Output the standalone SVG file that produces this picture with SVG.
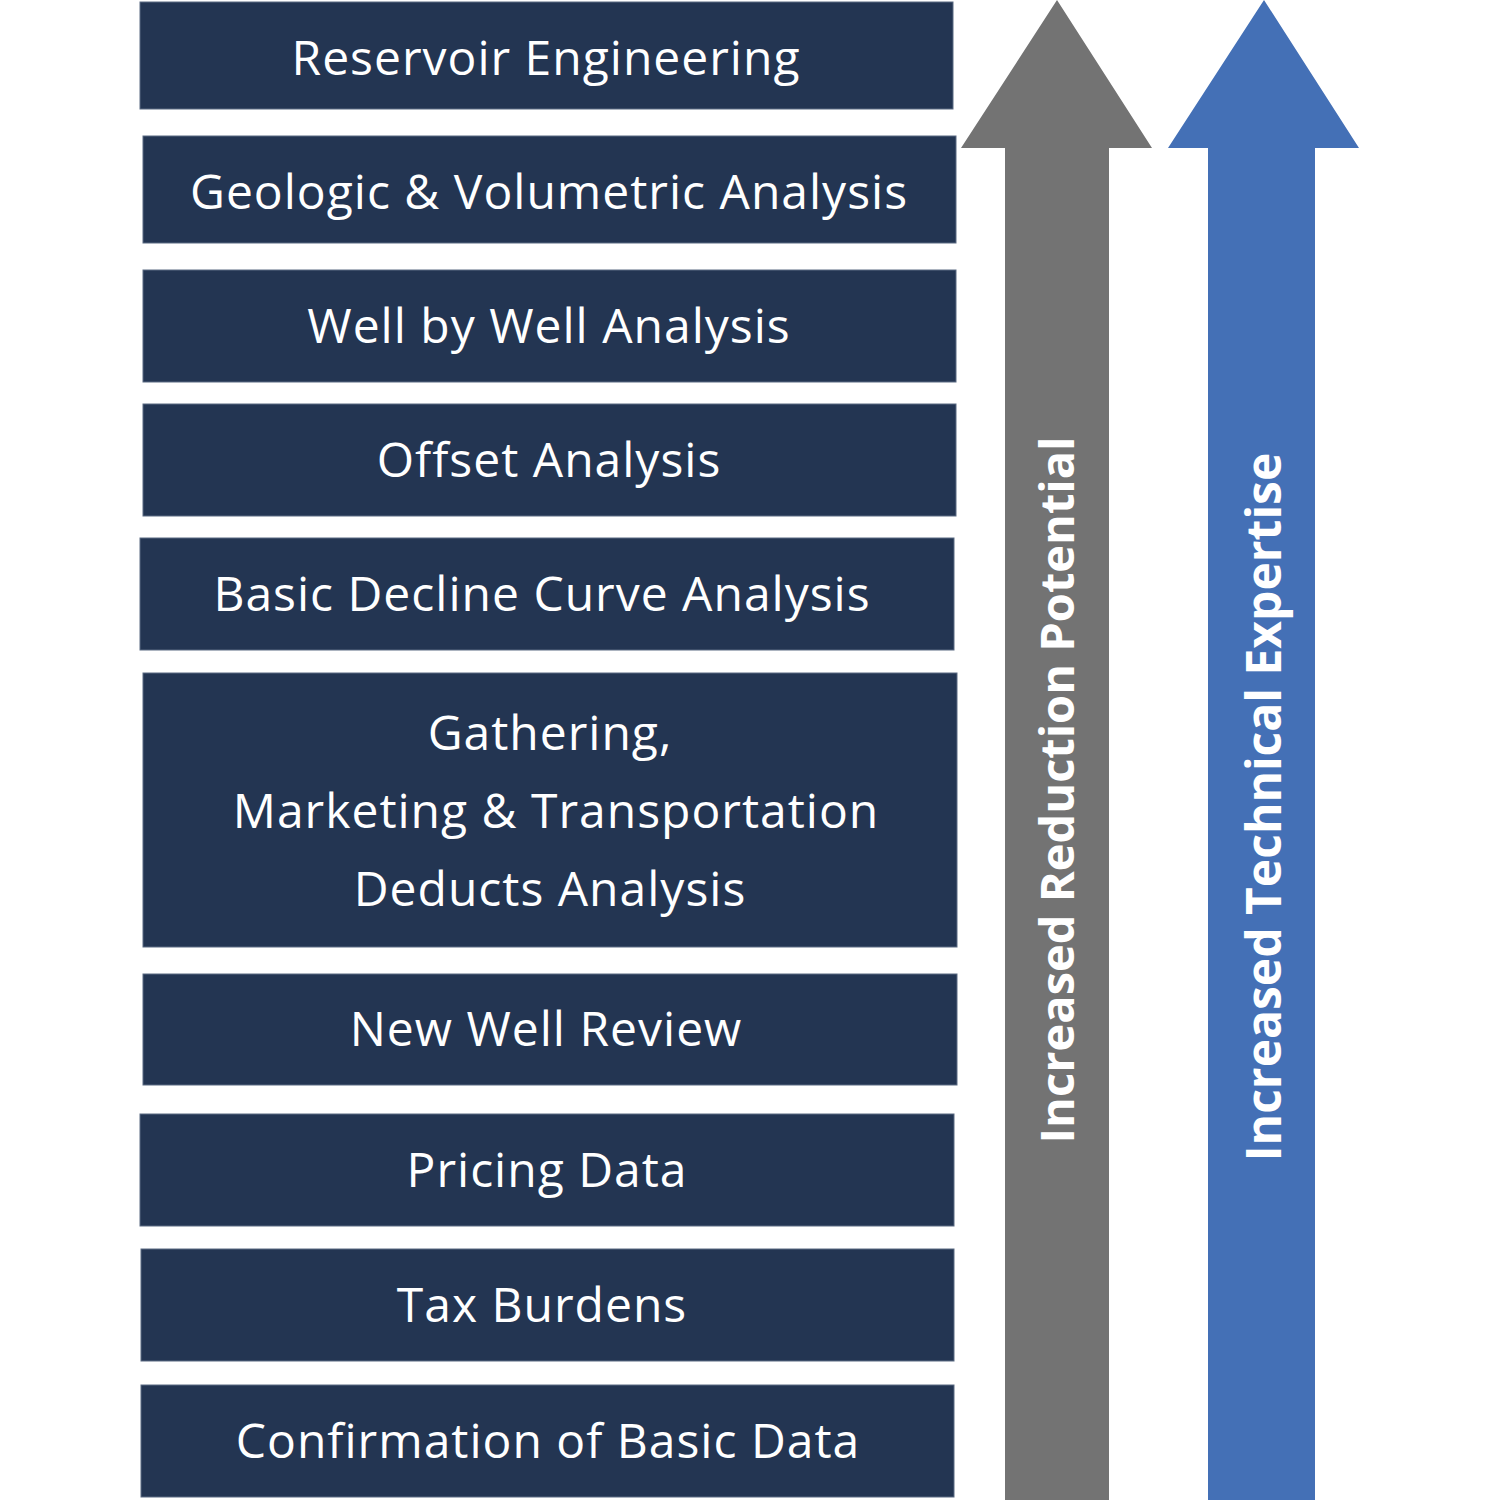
<svg xmlns="http://www.w3.org/2000/svg" width="1500" height="1500" viewBox="0 0 1500 1500">
<style>
.box{fill:#233552;stroke:#5a6a82;stroke-width:1}
.t{font-family:"Open Sans","Noto Sans",sans-serif;font-size:48px;letter-spacing:1px;fill:#ffffff;text-anchor:middle}
.v{font-family:"Open Sans","Noto Sans",sans-serif;font-size:48px;font-weight:bold;fill:#ffffff;text-anchor:middle}
</style>
<rect width="1500" height="1500" fill="#ffffff"/>
<g id="n1"><rect class="box" x="140" y="2" width="813" height="107"/><text class="t" x="546" y="75">Reservoir Engineering</text></g>
<g id="n2"><rect class="box" x="143" y="136" width="813" height="107"/><text class="t" x="549" y="209">Geologic &amp; Volumetric Analysis</text></g>
<g id="n3"><rect class="box" x="143" y="270" width="813" height="112"/><text class="t" x="549" y="343">Well by Well Analysis</text></g>
<g id="n4"><rect class="box" x="143" y="404" width="813" height="112"/><text class="t" x="549" y="477">Offset Analysis</text></g>
<g id="n5"><rect class="box" x="140" y="538" width="814" height="112"/><text class="t" x="542" y="611">Basic Decline Curve Analysis</text></g>
<g id="n6"><rect class="box" x="143" y="673" width="814" height="274"/><text class="t" x="550" y="750">Gathering,</text><text class="t" x="556" y="828">Marketing &amp; Transportation</text><text class="t" x="550" y="906">Deducts Analysis</text></g>
<g id="n7"><rect class="box" x="143" y="974" width="814" height="111"/><text class="t" x="546" y="1046">New Well Review</text></g>
<g id="n8"><rect class="box" x="140" y="1114" width="814" height="112"/><text class="t" x="547" y="1187">Pricing Data</text></g>
<g id="n9"><rect class="box" x="141" y="1249" width="813" height="112"/><text class="t" x="542" y="1322">Tax Burdens</text></g>
<g id="n10"><rect class="box" x="141" y="1385" width="813" height="112"/><text class="t" x="548" y="1458">Confirmation of Basic Data</text></g>
<g id="connectors">
<g id="arrow-gray"><polygon points="1057,0 1152,148 1109,148 1109,1500 1005,1500 1005,148 961,148" fill="#737373"/><text class="v" style="font-size:47px" transform="translate(1074,790) rotate(-90)">Increased Reduction Potential</text></g>
<g id="arrow-blue"><polygon points="1264,0 1359,148 1315,148 1315,1500 1208,1500 1208,148 1168,148" fill="#4470b6"/><text class="v" transform="translate(1281,807) rotate(-90)">Increased Technical Expertise</text></g>
</g>
</svg>
